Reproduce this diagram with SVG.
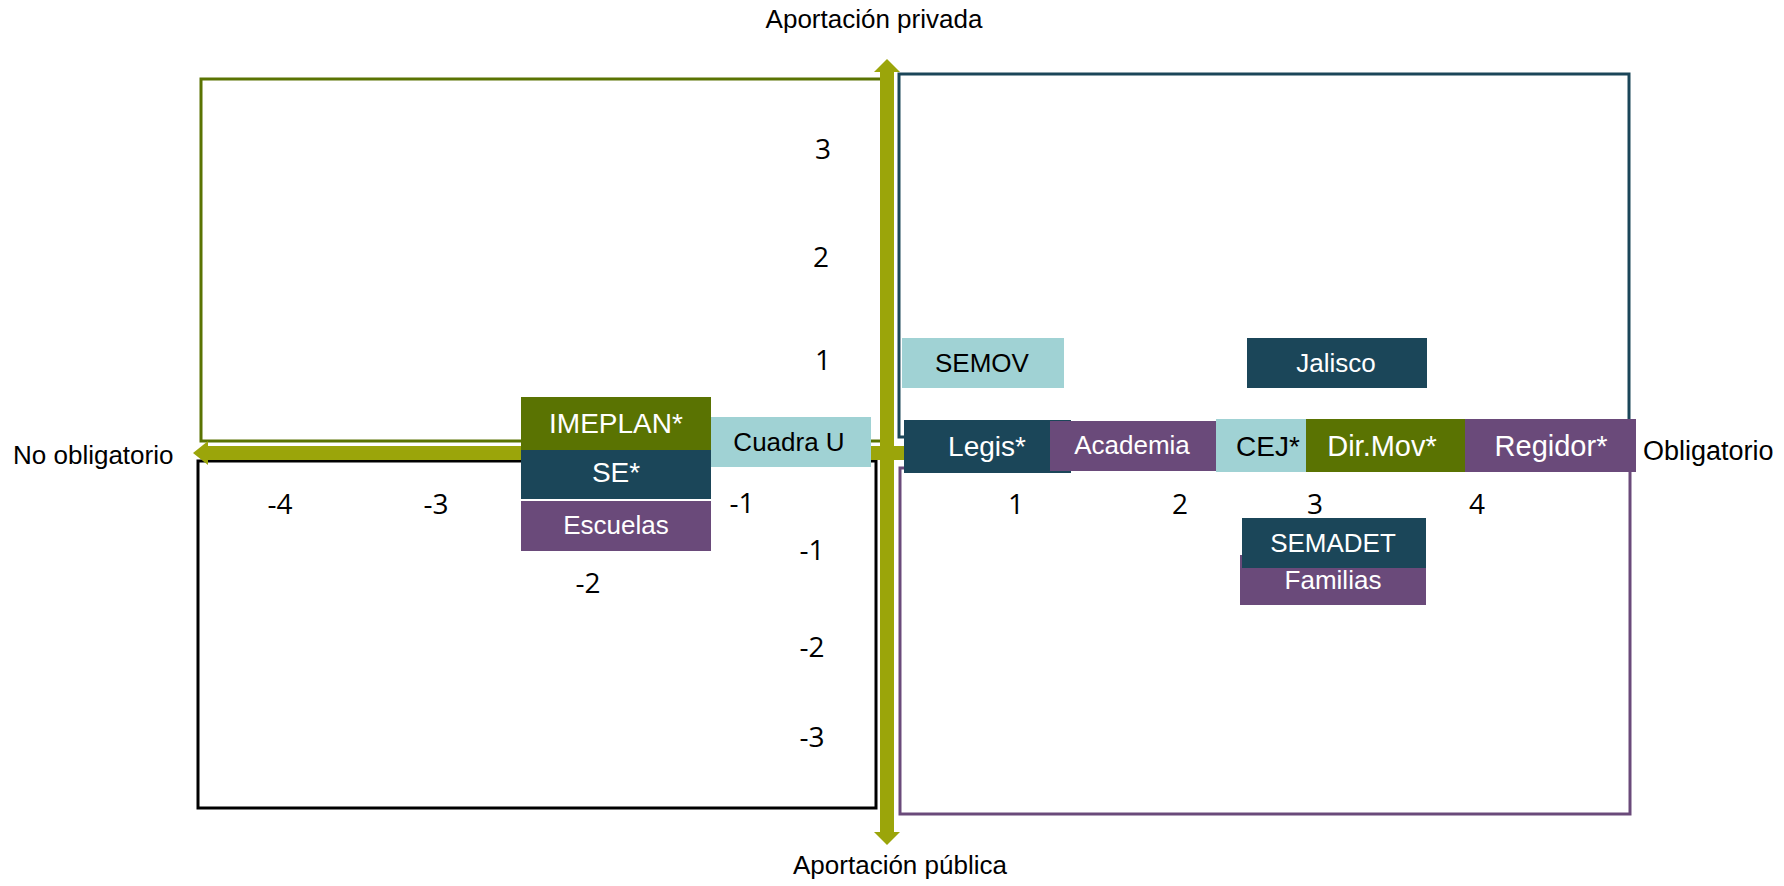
<svg xmlns="http://www.w3.org/2000/svg" width="1784" height="886" viewBox="0 0 1784 886">
<style>
.q{fill:none;stroke-width:3}
.lbl{font-family:"Liberation Sans",Arial,sans-serif;font-size:26px;fill:#000}
.num{font-family:"Open Sans","Liberation Sans",sans-serif;font-size:28px;fill:#000;text-anchor:middle}
.nt{font-family:"Liberation Sans",Arial,sans-serif;font-size:26px;text-anchor:middle;fill:#fff}
.big{font-size:28px}
.dk{fill:#000}
.g{fill:#5A7302}.t{fill:#1B4659}.p{fill:#6A4A7A}.l{fill:#A0D2D4}
.ax{fill:#9BA50A}
</style>
<rect width="1784" height="886" fill="#fff"/>
<g id="quadrants">
<rect class="q" x="201" y="79" width="682" height="362" stroke="#5A7302"/>
<rect class="q" x="899" y="74" width="730" height="363" stroke="#1B4659"/>
<rect class="q" x="198" y="461" width="678" height="347" stroke="#000"/>
<rect class="q" x="900" y="468" width="730" height="346" stroke="#6A4A7A"/>
</g>
<g id="connectors">
<rect class="ax" x="206" y="446" width="1420" height="14"/>
<polygon class="ax" points="193,453 208,441 208,465"/>
<rect class="ax" x="880" y="71" width="14" height="762"/>
<polygon class="ax" points="887,59 874,72 900,72"/>
<polygon class="ax" points="887,845 874,832 900,832"/>
</g>
<g id="axis-labels">
<text class="lbl" x="874" y="28" text-anchor="middle">Aportación privada</text>
<text class="lbl" x="900" y="874" text-anchor="middle">Aportación pública</text>
<text class="lbl" x="13" y="464">No obligatorio</text>
<text class="lbl" x="1643" y="460" style="font-size:27px">Obligatorio</text>
</g>
<g id="ticks">
<text class="num" x="823" y="159">3</text>
<text class="num" x="821" y="267">2</text>
<text class="num" x="823" y="370">1</text>
<text class="num" x="812" y="560">-1</text>
<text class="num" x="812" y="657">-2</text>
<text class="num" x="812" y="747">-3</text>
<text class="num" x="280" y="514">-4</text>
<text class="num" x="436" y="514">-3</text>
<text class="num" x="588" y="593">-2</text>
<text class="num" x="742" y="513">-1</text>
<text class="num" x="1016" y="514">1</text>
<text class="num" x="1180" y="514">2</text>
<text class="num" x="1315" y="514">3</text>
<text class="num" x="1477" y="514">4</text>
</g>
<g id="n-escuelas"><rect class="p" x="521" y="501" width="190" height="50"/><text class="nt" x="616" y="534">Escuelas</text></g>
<g id="n-se"><rect class="t" x="521" y="450" width="190" height="49"/><text class="nt big" x="616" y="482">SE*</text></g>
<g id="n-imeplan"><rect class="g" x="521" y="397" width="190" height="53"/><text class="nt big" x="616" y="433">IMEPLAN*</text></g>
<g id="n-cuadrau"><rect class="l" x="711" y="417" width="160" height="50"/><text class="nt dk" x="789" y="451">Cuadra U</text></g>
<g id="n-semov"><rect class="l" x="902" y="338" width="162" height="50"/><text class="nt dk" x="982" y="372">SEMOV</text></g>
<g id="n-jalisco"><rect class="t" x="1247" y="338" width="180" height="50"/><text class="nt" x="1336" y="372">Jalisco</text></g>
<g id="n-legis"><rect class="t" x="904" y="420" width="167" height="53"/><text class="nt big" x="987" y="456">Legis*</text></g>
<g id="n-academia"><rect class="p" x="1050" y="421" width="166" height="50"/><text class="nt" x="1132" y="454">Academia</text></g>
<g id="n-cej"><rect class="l" x="1216" y="419" width="90" height="53"/><text class="nt dk big" x="1268" y="456">CEJ*</text></g>
<g id="n-dirmov"><rect class="g" x="1306" y="419" width="159" height="53"/><text class="nt" x="1382" y="456" style="font-size:29px">Dir.Mov*</text></g>
<g id="n-regidor"><rect class="p" x="1465" y="419" width="171" height="53"/><text class="nt" x="1551" y="456" style="font-size:29px">Regidor*</text></g>
<g id="n-familias"><rect class="p" x="1240" y="555" width="186" height="50"/><text class="nt" x="1333" y="589">Familias</text></g>
<g id="n-semadet"><rect class="t" x="1242" y="518" width="184" height="50"/><text class="nt" x="1333" y="552">SEMADET</text></g>
</svg>
